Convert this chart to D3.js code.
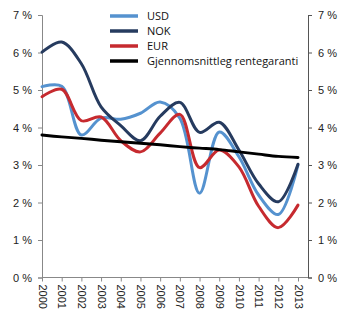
<!DOCTYPE html>
<html>
<head>
  <meta charset="utf-8">
  <title>Rentegaranti</title>
  <style>
    body { margin: 0; background: #fff; }
    svg { display: block; font-family: "Open Sans", sans-serif; }
    .axis text { font-size: 11px; fill: #222; }
    .axis path, .axis line { stroke: #555; }
    .axis.left path, .axis.left line, .axis.bottom path, .axis.bottom line { stroke: #888; }
    .series { fill: none; stroke-width: 3px; stroke-linecap: round; stroke-linejoin: round; }
    .legend text { font-size: 11px; fill: #111; }
  </style>
</head>
<body>
  <svg width="350" height="332"></svg>

  <script src="https://cdn.jsdelivr.net/npm/d3@7"></script>
  <script>
    // years on the x axis
    var years = [2000, 2001, 2002, 2003, 2004, 2005, 2006, 2007, 2008, 2009, 2010, 2011, 2012, 2013];

    // interest rates, per cent
    var usd = [5.09, 5.1, 3.8, 4.25, 4.22, 4.38, 4.68, 4.25, 2.25, 3.88, 3.22, 2.2, 1.68, 3.0];
    var nok = [6.01, 6.28, 5.7, 4.55, 4.05, 3.65, 4.3, 4.67, 3.87, 4.14, 3.4, 2.5, 2.02, 3.02];
    var eur = [4.82, 5.02, 4.18, 4.28, 3.65, 3.35, 3.85, 4.35, 2.93, 3.4, 2.95, 1.9, 1.33, 1.93];
    var garanti = [3.8, 3.75, 3.71, 3.66, 3.62, 3.58, 3.54, 3.49, 3.45, 3.41, 3.35, 3.29, 3.23, 3.2];

    var yTicks = [0, 1, 2, 3, 4, 5, 6, 7];

    var series = [
      { name: 'USD', values: usd, color: '#5592cf' },
      { name: 'NOK', values: nok, color: '#263b5f' },
      { name: 'EUR', values: eur, color: '#c62a2f' },
      { name: 'Gjennomsnittleg rentegaranti', values: garanti, color: '#000000' }
    ];

    var svg = d3.select('svg');
    var plot = { left: 42, right: 308, top: 15, bottom: 277.5 };

    var x = d3.scalePoint().domain(years).range([plot.left, 298]);
    var y = d3.scaleLinear().domain([0, 7]).range([plot.bottom, plot.top]);

    var pct = function(d) { return d + ' %'; };

    // left axis
    svg.append('g').attr('class', 'axis left')
      .attr('transform', 'translate(' + plot.left + ',0)')
      .call(d3.axisLeft(y).tickValues(yTicks).tickFormat(pct).tickSizeOuter(0).tickSize(4).tickPadding(6));

    // right axis
    svg.append('g').attr('class', 'axis right')
      .attr('transform', 'translate(' + plot.right + ',0)')
      .call(d3.axisRight(y).tickValues(yTicks).tickFormat(pct).tickSizeOuter(0).tickSize(4).tickPadding(6));

    // bottom axis, labels turned to read downwards
    var gx = svg.append('g').attr('class', 'axis bottom')
      .attr('transform', 'translate(0,' + plot.bottom + ')')
      .call(d3.axisBottom(x).tickSize(4).tickSizeOuter(0));
    gx.select('.domain').attr('d', 'M' + plot.left + ',0H' + plot.right);
    gx.selectAll('text')
      .attr('transform', 'rotate(90)')
      .attr('x', 7)
      .attr('y', 0)
      .attr('dy', '0.35em')
      .style('text-anchor', 'start');

    var line = d3.line()
      .x(function(d, i) { return x(years[i]); })
      .y(function(d) { return y(d); })
      .curve(d3.curveCatmullRom.alpha(0.5));

    svg.selectAll('path.series')
      .data(series)
      .enter().append('path')
      .attr('class', 'series')
      .attr('stroke', function(d) { return d.color; })
      .attr('d', function(d) { return line(d.values); });

    // legend
    var legend = svg.append('g').attr('class', 'legend')
      .selectAll('g')
      .data(series)
      .enter().append('g')
      .attr('transform', function(d, i) { return 'translate(110,' + (16 + i * 15) + ')'; });

    legend.append('line')
      .attr('x1', 0).attr('x2', 28)
      .attr('stroke', function(d) { return d.color; })
      .attr('stroke-width', 3.5);

    legend.append('text')
      .attr('x', 37)
      .attr('dy', '0.35em')
      .text(function(d) { return d.name; });
  </script>
</body>
</html>
